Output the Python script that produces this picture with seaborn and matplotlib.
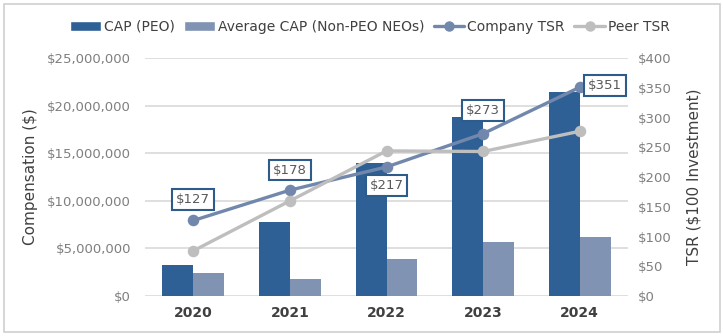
import matplotlib
matplotlib.use("Agg")
import matplotlib.pyplot as plt
from matplotlib.patches import Rectangle, Patch
from matplotlib.lines import Line2D
from matplotlib.ticker import FuncFormatter
import numpy as np
import pandas as pd
import seaborn as sns

years = ["2020", "2021", "2022", "2023", "2024"]
cap_peo = [3.25e6, 7.8e6, 13.95e6, 18.85e6, 21.4e6]
cap_neo = [2.4e6, 1.8e6, 3.85e6, 5.65e6, 6.15e6]
company_tsr = [127, 178, 217, 273, 351]
peer_tsr = [76, 160, 244, 243, 277]

bar_names = ["CAP (PEO)", "Average CAP (Non-PEO NEOs)"]
line_names = ["Company TSR", "Peer TSR"]

C_PEO = "#2E6096"
C_NEO = "#8093B2"
C_CO = "#7188AC"
C_PEER = "#BEBEBE"
GRID = "#D9D9D9"
TICK = "#7F7F7F"
DARK = "#404040"

sns.set_theme(style="white")
plt.rcParams["font.family"] = ["DejaVu Sans"]

bars = pd.DataFrame({
    "year": years * 2,
    "value": cap_peo + cap_neo,
    "series": [bar_names[0]] * len(years) + [bar_names[1]] * len(years),
})
lines = pd.DataFrame({
    "year": years * 2,
    "tsr": company_tsr + peer_tsr,
    "series": [line_names[0]] * len(years) + [line_names[1]] * len(years),
})

fig = plt.figure(figsize=(7.24, 3.36), dpi=100)
ax = fig.add_axes([0.2003, 0.119, 0.6671, 0.708])

sns.barplot(data=bars, x="year", y="value", hue="series",
            palette=[C_PEO, C_NEO], width=0.64, ax=ax, legend=False,
            saturation=1, edgecolor="none")
ax.set_ylim(0, 25e6)
ax.set_xlim(-0.5, 4.5)
ax.set_yticks(np.arange(0, 25e6 + 1, 5e6))
ax.yaxis.set_major_formatter(FuncFormatter(lambda v, p: f"${v:,.0f}"))
ax.grid(axis="y", color=GRID, linewidth=1.2)
ax.set_axisbelow(True)
for s in ax.spines.values():
    s.set_visible(False)
ax.tick_params(axis="y", length=0, labelsize=9.5, labelcolor=TICK, pad=10)
ax.tick_params(axis="x", length=0, labelsize=10, labelcolor=DARK, pad=7)
for t in ax.get_xticklabels():
    t.set_fontweight("semibold")
ax.set_xlabel("")
ax.set_ylabel("Compensation ($)", fontsize=11, color=DARK)
ax.yaxis.set_label_coords(-0.221, 0.5)

ax2 = ax.twinx()
sns.pointplot(data=lines, x="year", y="tsr", hue="series",
              palette=[C_CO, C_PEER], markers="o", linewidth=2.4,
              markersize=6.5, ax=ax2, legend=False, errorbar=None)
ax2.set_ylim(0, 400)
ax2.set_xlim(-0.5, 4.5)
ax2.set_yticks(np.arange(0, 401, 50))
ax2.yaxis.set_major_formatter(FuncFormatter(lambda v, p: f"${v:.0f}"))
for s in ax2.spines.values():
    s.set_visible(False)
ax2.tick_params(axis="y", length=0, labelsize=9.5, labelcolor=TICK, pad=7)
ax2.set_ylabel("TSR ($100 Investment)", fontsize=11, color=DARK)
ax2.yaxis.set_label_coords(1.122, 0.5)
ax2.grid(False)

# Company TSR value callouts (offsets in points)
offsets = [(0, 15), (0, 14.5), (0, -13.5), (0, 16.5), (18, 1.5)]
box = dict(boxstyle="square,pad=0.3", facecolor="white", edgecolor="#2E5C8A", linewidth=1.5)
for i, (v, (dx, dy)) in enumerate(zip(company_tsr, offsets)):
    ax2.annotate(f"${v}", xy=(i, v), xytext=(dx, dy), textcoords="offset points",
                 ha="center", va="center", fontsize=9.5, color="#595959", bbox=box)

handles = [
    Patch(facecolor=C_PEO, label=bar_names[0]),
    Patch(facecolor=C_NEO, label=bar_names[1]),
    Line2D([], [], color=C_CO, linewidth=2.4, marker="o", markersize=6.5, label=line_names[0]),
    Line2D([], [], color=C_PEER, linewidth=2.4, marker="o", markersize=6.5, label=line_names[1]),
]
fig.legend(handles=handles, loc="center", bbox_to_anchor=(0.511, 0.92), ncol=4,
           frameon=False, fontsize=10, handlelength=2.2, handleheight=0.8,
           handletextpad=0.2, columnspacing=0.7, labelcolor=DARK)

fig.patches.append(Rectangle((0.006, 0.012), 0.988, 0.976, transform=fig.transFigure,
                             fill=False, edgecolor="#D0D0D0", linewidth=1.2))

fig.savefig("out.png", dpi=100)
